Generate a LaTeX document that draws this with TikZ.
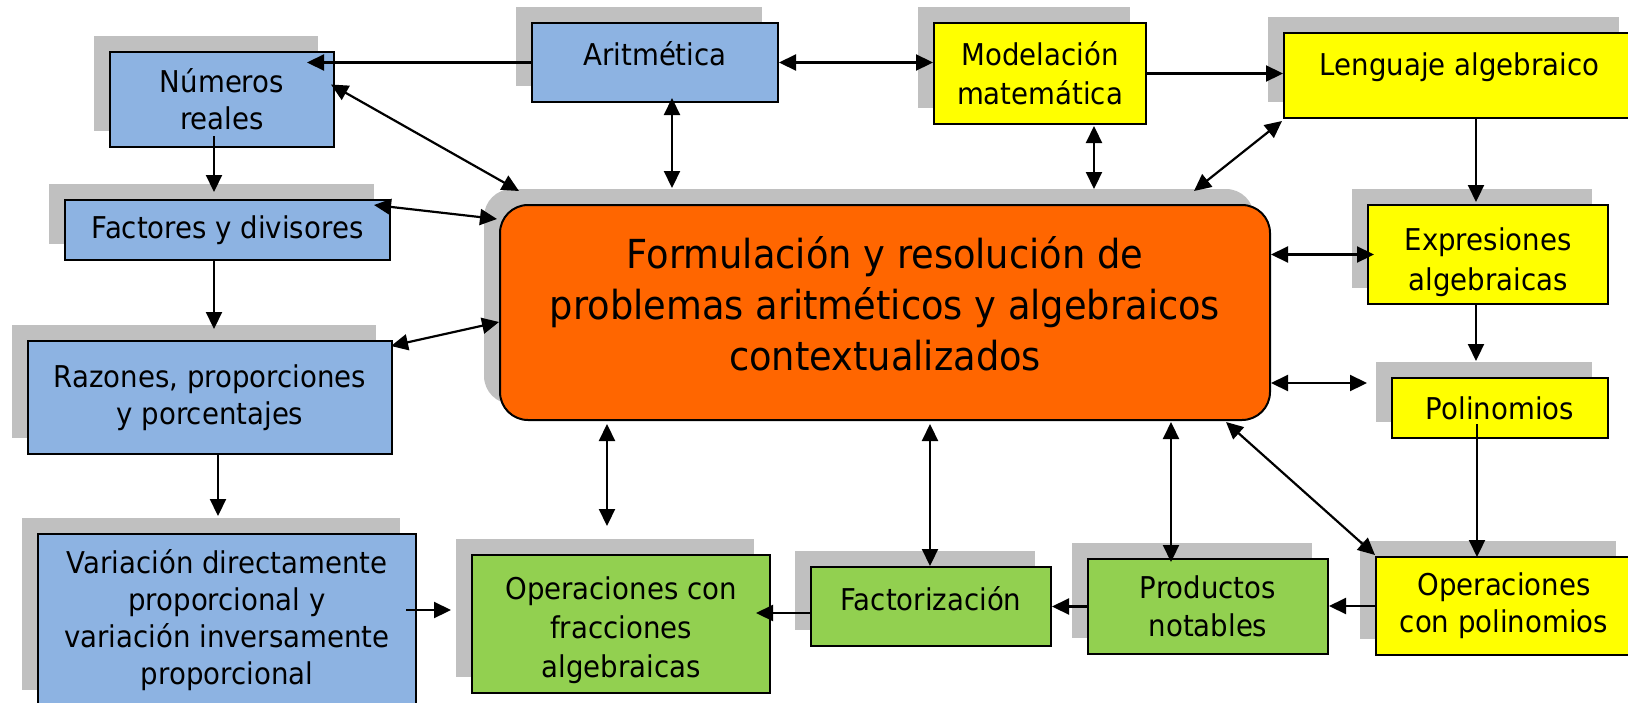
\documentclass[tikz,border=0pt]{standalone}
\usepackage{fontspec}
\setmainfont{DejaVu Sans}[FakeStretch=0.92]
\usetikzlibrary{arrows.meta,shadows}
\definecolor{azul}{HTML}{8DB3E2}
\definecolor{amarillo}{HTML}{FFFF00}
\definecolor{naranja}{HTML}{FF6600}
\definecolor{verde}{HTML}{92D050}
\definecolor{sombra}{HTML}{C0C0C0}

\begin{document}
\begin{tikzpicture}[x=0.5pt,y=-0.5pt]
\tikzset{caja/.style={draw, line width=1pt, inner sep=0pt, align=center,
    font=\fontsize{15pt}{18.5pt}\selectfont,
    general shadow={fill=sombra, shadow xshift=-8pt, shadow yshift=8pt}},
  punta/.tip={Triangle[length=8.5pt,width=8pt]},
  flecha/.style={line width=1.1pt, -punta},
  doble/.style={line width=1.1pt, punta-punta}}
\useasboundingbox (0,0) rectangle (1628,702);
\clip (0,0) rectangle (1628,702);
\node[caja, fill=azul, minimum width=123pt, minimum height=39.5pt, text depth=9.4pt] (arit) at (655,62.5) {Aritmética};
\node[caja, fill=azul, minimum width=112pt, minimum height=47.5pt] (num) at (222,99.5) {Números\\reales};
\node[caja, fill=amarillo, minimum width=106pt, minimum height=50.5pt,
  font=\fontsize{15pt}{19.5pt}\selectfont] (mod) at (1040,73.5) {Modelación\\matemática};
\node[caja, fill=amarillo, minimum width=175.5pt, minimum height=42.5pt, text depth=11.9pt] (leng) at (1459.5,75.5) {Lenguaje algebraico};
\node[caja, fill=azul, minimum width=162.5pt, minimum height=30pt] (fac) at (227.5,230) {Factores y divisores};
\node[caja, fill=naranja, rounded corners=14pt, minimum width=385pt, minimum height=107.5pt,
  font=\fontsize{20pt}{25.5pt}\selectfont] (centro) at (885,312.5)
  {Formulación y resolución de\\problemas aritméticos y algebraicos\\contextualizados\rule[-9.5pt]{0pt}{0pt}};
\node[caja, fill=amarillo, minimum width=120pt, minimum height=49.5pt,
  font=\fontsize{15pt}{20pt}\selectfont] (expr) at (1488,254.5) {\rule{0pt}{19pt}Expresiones\\algebraicas};
\node[caja, fill=amarillo, minimum width=108pt, minimum height=30pt] (pol) at (1500,408) {Polinomios};
\node[caja, fill=azul, minimum width=182pt, minimum height=56.5pt] (raz) at (210,397.5) {Razones, proporciones\\y porcentajes};
\node[caja, fill=azul, minimum width=189pt, minimum height=86pt] (var) at (227,620)
  {Variación directamente\\proporcional y\\variación inversamente\\proporcional};
\node[caja, fill=verde, minimum width=149pt, minimum height=69pt,
  font=\fontsize{15pt}{19.5pt}\selectfont] (frac) at (621,624) {\rule{0pt}{18pt}Operaciones con\\fracciones\\algebraicas};
\node[caja, fill=verde, minimum width=120pt, minimum height=39.5pt, text depth=8.4pt] (fact) at (931,606.5) {Factorización};
\node[caja, fill=verde, minimum width=120pt, minimum height=47.5pt,
  font=\fontsize{15pt}{19pt}\selectfont] (prod) at (1208,606.5) {Productos\\notables};
\node[caja, fill=amarillo, minimum width=128pt, minimum height=49pt] (oppol) at (1504,606) {Operaciones\\con polinomios};
\draw[flecha, shorten >=-14pt] (arit.west) -- (arit.west -| num.east);
\draw[doble] (arit.east) -- (arit.east -| mod.west);
\draw[flecha] (mod.east) -- (mod.east -| leng.west);
\draw[doble] ([shift={(17,-5)}]arit.south) -- ([shift={(-213,-16)}]centro.north);
\draw[doble] ([shift={(54,1)}]mod.south) -- ([shift={(209,-15)}]centro.north);
\draw[doble] ([shift={(-1,2)}]leng.south west) -- ([shift={(-77,-13)}]centro.north east);
\draw[flecha] ([shift={(16.5,0)}]leng.south) -- ([shift={(-12,-2)}]expr.north);
\draw[flecha] ([shift={(-12,0)}]expr.south) -- ([shift={(-24,-16)}]pol.north);
\draw[doble] ([shift={(0,-58)}]centro.east) -- ([shift={(7,0)}]expr.west);
\draw[doble] ([shift={(0,70.5)}]centro.east) -- ([shift={(-24,-25)}]pol.west);
\draw[doble] ([shift={(-4,-15)}]num.east) -- ([shift={(20,-13)}]centro.north west);
\draw[flecha] ([shift={(-8,-12)}]num.south) -- ([shift={(-13.5,-7)}]fac.north);
\draw[doble] ([shift={(-17,6)}]fac.north east) -- ([shift={(-2,15)}]centro.north west);
\draw[flecha] ([shift={(-13.5,0)}]fac.south) -- ([shift={(4,-11)}]raz.north);
\draw[doble] ([shift={(-2,6)}]raz.north east) -- ([shift={(0,9.5)}]centro.west);
\draw[flecha] ([shift={(8,0)}]raz.south) -- ([shift={(-9,-17)}]var.north);
\draw[flecha] ([shift={(-11,-10)}]var.east) -- ([shift={(-20,-14)}]frac.west);
\draw[doble] ([shift={(-278,3)}]centro.south) -- ([shift={(-14,-28)}]frac.north);
\draw[doble] ([shift={(45,3)}]centro.south) -- ([shift={(-1,0)}]fact.north);
\draw[doble] ([shift={(286,1)}]centro.south) -- ([shift={(-37,4)}]prod.north);
\draw[doble] ([shift={(-45,1)}]centro.south east) -- ([shift={(0,-1)}]oppol.north west);
\draw[flecha] ([shift={(-23,-15)}]pol.south) -- ([shift={(-27,1)}]oppol.north);
\draw[flecha] (oppol.west) -- (oppol.west -| prod.east);
\draw[flecha] (prod.west) -- (prod.west -| fact.east);
\draw[flecha] ([shift={(0,6.5)}]fact.west) -- ([shift={(-15,-11)}]frac.east);
\end{tikzpicture}
\end{document}
